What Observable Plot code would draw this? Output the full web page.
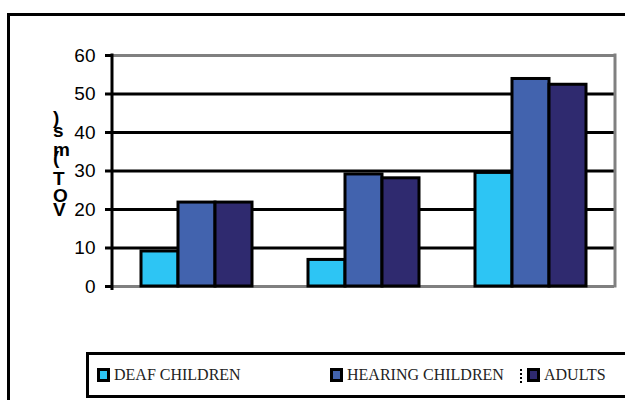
<!DOCTYPE html>
<html><head><meta charset="utf-8">
<script src="https://cdn.jsdelivr.net/npm/d3@7"></script>
<script src="https://cdn.jsdelivr.net/npm/@observablehq/plot@0.6"></script>
<style>
html,body{margin:0;padding:0;background:#fff;}
#wrap{position:relative;width:625px;height:400px;overflow:hidden;background:#fff;}
#outer{position:absolute;left:7px;top:13px;width:700px;height:500px;border-left:3px solid #000;border-top:3px solid #000;box-sizing:border-box;}
#chart{position:absolute;left:0;top:0;}
#legend{position:absolute;left:86px;top:352px;width:700px;height:46px;border:3px solid #000;box-sizing:border-box;font-family:"Liberation Serif","Times New Roman",serif;font-size:16px;color:#222;}
.item{position:absolute;top:0;height:40px;display:flex;align-items:center;white-space:nowrap;}
.sw{width:7px;height:8px;border:3px solid #000;margin-right:4px;}
.sep{position:absolute;top:14px;height:14px;border-left:2px dotted #000;}
</style></head><body>
<div id="wrap"><div id="outer"></div><div id="chart"></div><div id="legend"></div></div>
<script>
// ---- data ----
const groups = ["1", "2", "3"];
const series = ["DEAF CHILDREN", "HEARING CHILDREN", "ADULTS"];
const deafChildren = [9.1, 6.9, 29.5];
const hearingChildren = [21.8, 29.1, 53.9];
const adults = [21.8, 28.1, 52.4];
const colors = ["#2DC5F4", "#4263AE", "#2F2A6F"];
const yTicks = [0, 10, 20, 30, 40, 50, 60];
const yLabel = "VOT (ms)";

// ---- layout ----
const W = 625, H = 300, M = {top: 55, right: 10, bottom: 14, left: 112};
const legendLeft = [8, 241, 438];

const valuesBySeries = [deafChildren, hearingChildren, adults];
const data = groups.flatMap((g, i) => series.map((s, j) => ({group: g, series: s, value: valuesBySeries[j][i]})));

const plot = Plot.plot({
  width: W, height: H,
  marginTop: M.top, marginRight: M.right, marginBottom: M.bottom, marginLeft: M.left,
  style: {background: "transparent", overflow: "visible", fontFamily: "'Liberation Sans', Arial, sans-serif"},
  fx: {domain: groups, padding: 0, axis: null},
  x: {domain: series, paddingInner: 0, paddingOuter: 0.72, axis: null},
  y: {domain: [0, 60], axis: null},
  color: {domain: series, range: colors},
  marks: [
    Plot.ruleY(yTicks.filter(t => t > 0 && t < 60), {stroke: "#000", strokeWidth: 3}),
    Plot.ruleY([0, 60], {stroke: "#808080", strokeWidth: 3}),
    Plot.barY(data, {fx: "group", x: "series", y: "value", fill: "series", stroke: "#000", strokeWidth: 3}),
    Plot.axisY(yTicks, {tickSize: 8, tickPadding: 10, fontSize: 19, strokeWidth: 3, color: "#000", label: null})
  ]
});
document.getElementById("chart").appendChild(plot);

const svg = d3.select(plot);
const y = plot.scale("y");
svg.append("line")
  .attr("x1", W - M.right).attr("x2", W - M.right)
  .attr("y1", y.apply(60) - 1.5).attr("y2", y.apply(0) + 1.5)
  .attr("stroke", "#808080").attr("stroke-width", 3);
svg.append("line")
  .attr("x1", M.left).attr("x2", M.left)
  .attr("y1", y.apply(60) - 1.5).attr("y2", y.apply(0) + 4)
  .attr("stroke", "#000").attr("stroke-width", 3);

// y label: rotated text with upright glyphs (stacked bottom-to-top)
svg.append("text")
  .attr("transform", "translate(53,166) rotate(-90)")
  .attr("rotate", 90)
  .attr("font-family", "'Liberation Sans', Arial, sans-serif")
  .attr("font-weight", "bold")
  .attr("font-size", 19)
  .attr("letter-spacing", 2)
  .attr("fill", "#000")
  .text(yLabel);

// legend
const legend = d3.select("#legend");
series.forEach((s, i) => {
  if (i === 2) legend.append("div").attr("class", "sep").style("left", (legendLeft[i] - 7) + "px");
  const it = legend.append("div").attr("class", "item").style("left", legendLeft[i] + "px");
  it.append("div").attr("class", "sw").style("background", colors[i]);
  it.append("span").text(s);
});
</script>
</body></html>
